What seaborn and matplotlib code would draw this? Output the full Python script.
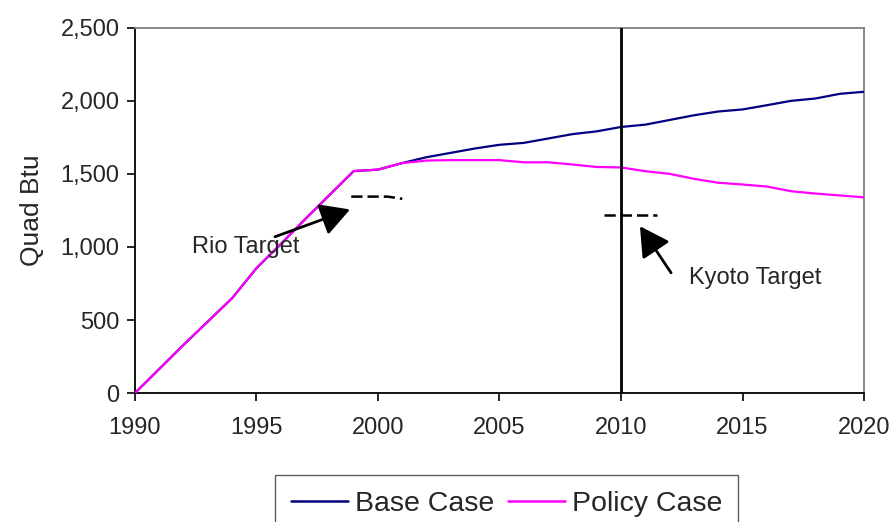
import numpy as np
import pandas as pd
import matplotlib
matplotlib.use("Agg")
import matplotlib.pyplot as plt
import seaborn as sns

# Energy-related CO2 projection, Quad Btu
years = list(range(1990, 2021))
base_case = [0, 165, 330, 490, 650, 855, 1020, 1190, 1355, 1520,
             1530, 1575, 1615, 1645, 1675, 1700, 1713, 1743, 1773, 1792,
             1822, 1838, 1870, 1902, 1928, 1942, 1971, 2001, 2017, 2049,
             2063]
policy_case = [0, 165, 330, 490, 650, 855, 1020, 1190, 1355, 1520,
               1530, 1575, 1592, 1595, 1595, 1595, 1580, 1580, 1565, 1548,
               1545, 1519, 1501, 1467, 1440, 1428, 1414, 1382, 1366, 1353,
               1340]
series_names = ["Base Case", "Policy Case"]
series_colors = ["#000080", "#FF00FF"]

# Target markers
rio_target_years = [1998.9, 2000.4, 2001.0]
rio_target_values = [1345, 1345, 1330]
kyoto_target_years = [2009.3, 2011.5]
kyoto_target_values = [1222, 1222]
kyoto_year = 2010

y_ticks = [0, 500, 1000, 1500, 2000, 2500]
x_ticks = [1990, 1995, 2000, 2005, 2010, 2015, 2020]

df = pd.DataFrame({
    "Year": years * 2,
    "Value": base_case + policy_case,
    "Case": [series_names[0]] * len(years) + [series_names[1]] * len(years),
})

sns.set_style("white")
plt.rcParams["font.family"] = ["Liberation Sans", "DejaVu Sans"]

fig = plt.figure(figsize=(8.95, 5.22), dpi=100)
ax = fig.add_axes([0.1508, 0.2471, 0.8146, 0.6993])

sns.lineplot(data=df, x="Year", y="Value", hue="Case",
             hue_order=series_names, palette=series_colors,
             linewidth=1.6, ax=ax, legend=False, zorder=3)

# Kyoto reference year
ax.axvline(kyoto_year, color="black", linewidth=2.0, zorder=4)

# Target levels
ax.plot(rio_target_years, rio_target_values, color="black",
        linewidth=1.8, linestyle=(0, (4.5, 2)), zorder=4)
ax.plot(kyoto_target_years, kyoto_target_values, color="black",
        linewidth=1.8, linestyle=(0, (4.5, 2)), zorder=4)

arrow = dict(arrowstyle="-|>,head_length=0.9,head_width=0.5",
             mutation_scale=20, color="black", linewidth=2.0,
             shrinkA=0, shrinkB=0)
ax.annotate("", xy=(1998.85, 1257), xytext=(1995.76, 1070),
            arrowprops=arrow, zorder=5)
ax.annotate("", xy=(2010.78, 1142), xytext=(2012.06, 823),
            arrowprops=arrow, zorder=5)
ax.text(1992.33, 1001, "Rio Target", fontsize=17, ha="left",
        va="center", zorder=6)
ax.text(2012.81, 789, "Kyoto Target", fontsize=17, ha="left",
        va="center", zorder=6)

ax.set_xlim(1990, 2020)
ax.set_ylim(0, 2500)
ax.set_xticks(x_ticks)
ax.set_xticklabels([str(x) for x in x_ticks])
ax.set_yticks(y_ticks)
ax.set_yticklabels([f"{v:,}" for v in y_ticks])
ax.tick_params(axis="both", labelsize=17, direction="out", length=6,
               width=1.2, color="black", left=True, bottom=True)
ax.tick_params(axis="x", pad=11)
ax.tick_params(axis="y", pad=5)
ax.set_xlabel("")
ax.set_ylabel("Quad Btu", fontsize=19, labelpad=12)

for side in ["left", "bottom"]:
    ax.spines[side].set_color("black")
    ax.spines[side].set_linewidth(1.3)
for side in ["top", "right"]:
    ax.spines[side].set_visible(True)
    ax.spines[side].set_color("#808080")
    ax.spines[side].set_linewidth(1.3)

handles = [plt.Line2D([], [], color=c, linewidth=1.8) for c in series_colors]
leg = fig.legend(handles, series_names, loc="upper left",
                 bbox_to_anchor=(275 / 895, 1 - 475 / 522),
                 ncol=2, fontsize=20.5, frameon=True, fancybox=False,
                 edgecolor="#333333", handlelength=2.0, handletextpad=0.25,
                 columnspacing=0.5, borderpad=0.55, borderaxespad=0)
leg.get_frame().set_linewidth(1.0)

fig.savefig("out.png", dpi=100, facecolor="white")
